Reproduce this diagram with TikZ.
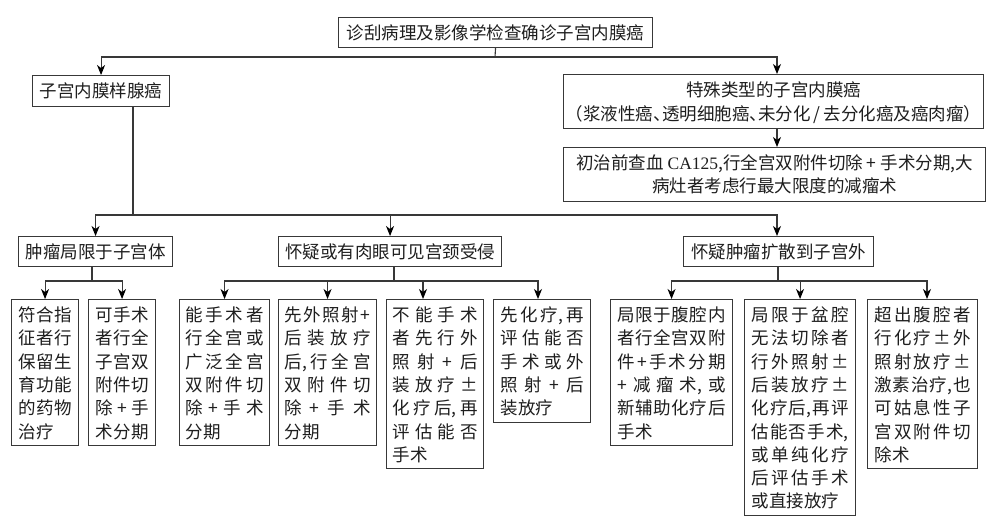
\documentclass[tikz,border=0pt]{standalone}
\usepackage{fontspec}
\setmainfont{Noto Sans CJK SC}
\newfontfamily\serifl{Liberation Serif}
\usetikzlibrary{arrows.meta}
\definecolor{lc}{HTML}{383838}
\definecolor{tc}{HTML}{1E1E1E}
\makeatletter
\newcommand\strA{\rule[-4.3pt]{0pt}{23.3pt}}
\newcommand\strB{\rule[-5.35pt]{0pt}{24pt}}
\newcommand\strC{\rule[-5pt]{0pt}{23pt}}
\def\jl@go#1#2\jl@stop{#1\if\relax\detokenize{#2}\relax\else\hfil\jl@go#2\jl@stop\fi}
\newcommand\jl[1]{\noindent\hbox to\hsize{\strA\jl@go#1{}\jl@stop}}
\newcommand\jn[1]{\noindent\strA#1}
\makeatother
\tikzset{
  ln/.style={draw=lc, line width=1.1pt},
  box/.style={draw=lc, line width=1.1pt, text=tc, anchor=north west, inner sep=0pt},
  one/.style={box, text height=14.6pt, text depth=1.4pt, minimum height=30pt,
    font=\fontsize{17.5}{21}\selectfont},
  col/.style={box, align=left, inner ysep=3pt, inner xsep=7pt,
    font=\fontsize{17.5}{23.3}\selectfont},
  arr/.style={ln, -{Stealth[length=10pt,width=8pt,inset=3pt,color=black]}},
}
\begin{document}
\begin{tikzpicture}[x=1pt,y=-1pt]
\useasboundingbox (0,0) rectangle (994,520);

% top level
\node[one, minimum width=314pt] (top) at (338,17) {诊刮病理及影像学检查确诊子宫内膜癌};
\node[one, minimum width=137pt, minimum height=31pt] (endo) at (32,75) {子宫内膜样腺癌};
\node[box, align=center, minimum width=420pt, minimum height=54pt,
  font=\fontsize{17.5}{24}\selectfont] (spec) at (563,74)
  {\strB 特殊类型的子宫内膜癌\\\strB（浆液性癌、\kern-.5em 透明细胞癌、\kern-.5em 未分化\,/\,去分化癌及癌肉瘤）};
\node[box, align=center, minimum width=422pt, minimum height=54pt,
  font=\fontsize{17.5}{23}\selectfont] (ca) at (563,147)
  {\strC 初治前查血 {\serifl CA125},行全宫双附件切除 + 手术分期,大\\\strC 病灶者考虑行最大限度的减瘤术};

% second level
\node[one, minimum width=154pt] (la) at (18,236) {肿瘤局限于子宫体};
\node[one, minimum width=223pt] (lb) at (278,236) {怀疑或有肉眼可见宫颈受侵};
\node[one, minimum width=190pt] (lc) at (683,236) {怀疑肿瘤扩散到子宫外};

% third level
\node[col, text width=53pt] (b1) at (11,299)
  {\jl{符合指}\\\jl{征者行}\\\jl{保留生}\\\jl{育功能}\\\jl{的药物}\\\jn{治疗}};
\node[col, text width=53pt] (b2) at (88,299)
  {\jl{可手术}\\\jl{者行全}\\\jl{子宫双}\\\jl{附件切}\\\jl{除+手}\\\jl{术分期}};
\node[col, text width=78pt, inner xsep=6pt] (b3) at (179,299)
  {\jl{能手术者}\\\jl{行全宫或}\\\jl{广泛全宫}\\\jl{双附件切}\\\jl{除+手术}\\\jn{分期}};
\node[col, text width=86pt, inner xsep=6pt] (b4) at (278,299)
  {\jl{先外照射+}\\\jl{后装放疗}\\\jl{{后,}行全宫}\\\jl{双附件切}\\\jl{除+手术}\\\jn{分期}};
\node[col, text width=85pt, inner xsep=6pt] (b5) at (386,299)
  {\jl{不能手术}\\\jl{者先行外}\\\jl{照射+后}\\\jl{装放疗±}\\\jl{化疗{后,}再}\\\jl{评估能否}\\\jn{手术}};
\node[col, text width=83pt] (b6) at (493,299)
  {\jl{先化{疗,}再}\\\jl{评估能否}\\\jl{手术或外}\\\jl{照射+后}\\\jn{装放疗}};
\node[col, text width=108pt] (b7) at (610,299)
  {\jl{局限于腹腔内}\\\jl{者行全宫双附}\\\jl{件+手术分期}\\\jl{+减瘤{术,}或}\\\jl{新辅助化疗后}\\\jn{手术}};
\node[col, text width=97pt] (b8) at (744,299)
  {\jl{局限于盆腔}\\\jl{无法切除者}\\\jl{行外照射±}\\\jl{后装放疗±}\\\jl{化疗{后,}再评}\\\jl{估能否手{术,}}\\\jl{或单纯化疗}\\\jl{后评估手术}\\\jn{或直接放疗}};
\node[col, text width=96pt] (b9) at (867,299)
  {\jl{超出腹腔者}\\\jl{行化疗±外}\\\jl{照射放疗±}\\\jl{激素治{疗,}也}\\\jl{可姑息性子}\\\jl{宫双附件切}\\\jn{除术}};

% junction coordinates
\coordinate (j0) at (495,57);
\coordinate (xr) at (777,0);
\coordinate (j1) at (133,215);
\coordinate (j2) at (92,281);
\coordinate (j3) at (394,281);
\coordinate (j4) at (778,281);
\coordinate (x5) at (423,0);
\coordinate (x6) at (538,0);
\coordinate (x9) at (927,0);

% connectors
\draw[ln] (top.south) -- (j0);
\draw[arr] (j0) -| (endo.north);
\draw[arr] (j0) -| (xr |- spec.north);
\draw[arr] (xr |- spec.south) -- (xr |- ca.north);

\draw[ln] (j1 |- endo.south) -- (j1);
\draw[arr] (j1) -| (la.north);
\draw[arr] (j1) -| (lb.north);
\draw[arr] (j1) -| (xr |- lc.north);

\draw[ln] (j2 |- la.south) -- (j2);
\draw[arr] (j2) -| (b1.north);
\draw[arr] (j2) -| (b2.north);

\draw[ln] (j3 |- lb.south) -- (j3);
\draw[arr] (j3) -| (b3.north);
\draw[arr] (j3) -| (b4.north);
\draw[arr] (j3) -| (x5 |- b5.north);
\draw[arr] (j3) -| (x6 |- b6.north);

\draw[ln] (j4 |- lc.south) -- (j4);
\draw[arr] (j4) -| (b7.north);
\draw[arr] (j4) -| (b8.north);
\draw[arr] (j4) -| (x9 |- b9.north);
\end{tikzpicture}
\end{document}
